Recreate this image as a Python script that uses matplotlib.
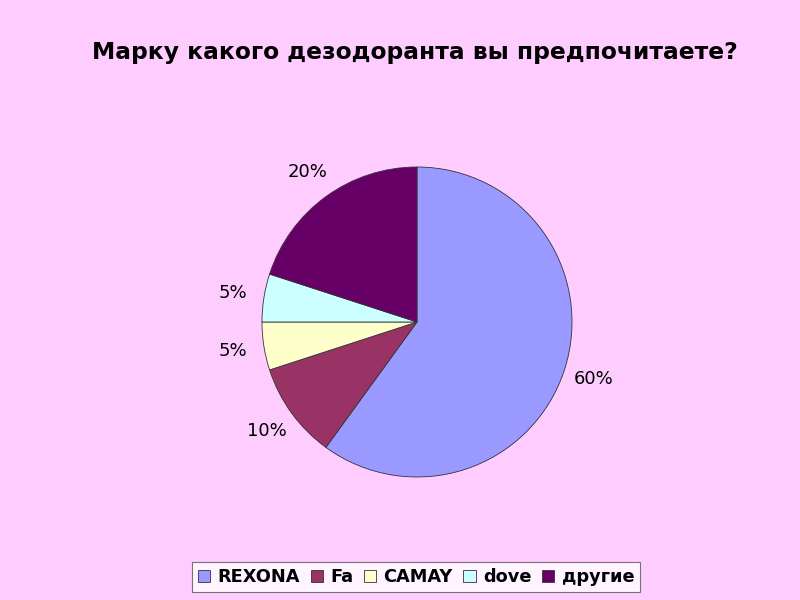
import matplotlib
matplotlib.use('Agg')
import matplotlib.pyplot as plt

# ---------------- data ----------------
brands = ['REXONA', 'Fa', 'CAMAY', 'dove', 'другие']
shares = [60, 10, 5, 5, 20]
colors = ['#9999FF', '#993366', '#FFFFCC', '#CCFFFF', '#660066']
title = 'Марку какого дезодоранта вы предпочитаете?'

bg = '#FFCCFF'
fig = plt.figure(figsize=(8, 6), dpi=100, facecolor=bg)

# pie axes: centre about (417, 322) px, radius about 155 px
ax = fig.add_axes([262 / 800, (600 - 322 - 155) / 600, 310 / 800, 310 / 600])
ax.set_facecolor(bg)
wedges, texts, autotexts = ax.pie(shares, colors=colors, startangle=90, counterclock=False,
                                  autopct='%1.0f%%', pctdistance=1.2,
                                  wedgeprops=dict(edgecolor='#333333', linewidth=0.6),
                                  textprops=dict(fontsize=13, color='black'))
ax.set_xlim(-1, 1)
ax.set_ylim(-1, 1)
ax.set_aspect('equal')
for t in autotexts:
    t.set_clip_on(False)

fig.text(0.519, 0.912, title, ha='center', va='center', fontsize=16.8, fontweight='bold')

leg = fig.legend(wedges, brands, loc='center', bbox_to_anchor=(0.52, 0.038), ncol=5,
                 frameon=True, fancybox=False, edgecolor='#555555', facecolor='white',
                 handlelength=0.7, handleheight=0.7, handletextpad=0.4,
                 columnspacing=0.6, borderpad=0.35, prop=dict(weight='bold', size=12.8))
leg.get_frame().set_linewidth(0.8)

fig.savefig('out.png', dpi=100, facecolor=bg)
